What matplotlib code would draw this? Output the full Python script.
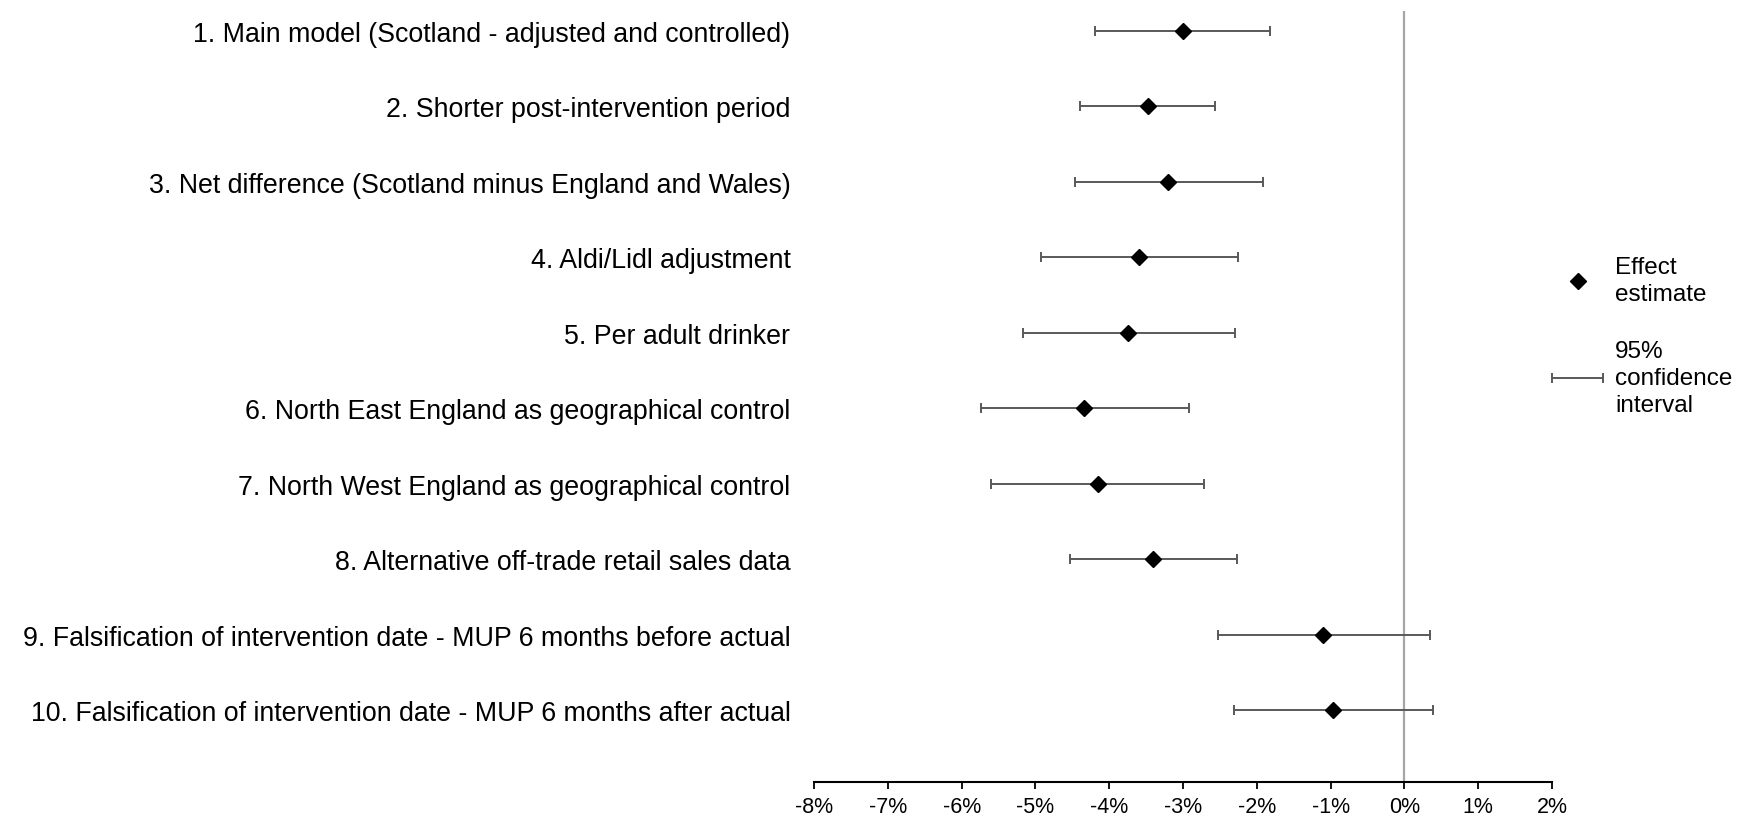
#!/usr/bin/env python3

import numpy as np
import matplotlib
matplotlib.use('Agg')

import matplotlib.pyplot as plt
from matplotlib.container import ErrorbarContainer
from matplotlib.legend_handler import HandlerErrorbar

labels = [
    "1. Main model (Scotland - adjusted and controlled)",
    "2. Shorter post-intervention period",
    "3. Net difference (Scotland minus England and Wales)",
    "4. Aldi/Lidl adjustment",
    "5. Per adult drinker",
    "6. North East England as geographical control",
    "7. North West England as geographical control",
    "8. Alternative off-trade retail sales data",
    "9. Falsification of intervention date - MUP 6 months before actual",
    "10. Falsification of intervention date - MUP 6 months after actual",
]
estimate = [-3.00, -3.48, -3.21, -3.60, -3.74, -4.34, -4.15, -3.41, -1.10, -0.97]
ci_low = [-4.19, -4.39, -4.46, -4.93, -5.17, -5.74, -5.60, -4.53, -2.52, -2.31]
ci_high = [-1.82, -2.57, -1.91, -2.25, -2.30, -2.92, -2.71, -2.27, 0.34, 0.39]
xticks = [-8, -7, -6, -5, -4, -3, -2, -1, 0, 1, 2]


def main():
    plt.rcParams['font.family'] = ['Liberation Sans', 'DejaVu Sans']

    est = np.array(estimate)
    lo = np.array(ci_low)
    hi = np.array(ci_high)
    y = np.arange(1, len(labels) + 1)

    fig = plt.figure(figsize=(17.38, 8.2), dpi=100)
    ax = fig.add_axes([0.4684, 0.0451, 0.4246, 0.9403])

    ax.axvline(0, color='#a6a6a6', lw=1.6, zorder=1)
    eb = ax.errorbar(est, y, xerr=[est - lo, hi - est], fmt='none', ecolor='#595959',
                     elinewidth=1.4, capsize=3.3, capthick=1.4, zorder=2,
                     label='95%\nconfidence\ninterval')
    dots, = ax.plot(est, y, 'D', color='black', ms=8.3, ls='none', zorder=3,
                    label='Effect\nestimate')

    ax.set_xlim(-8, 2)
    ax.set_ylim(10.95, 0.735)
    ax.set_xticks(xticks)
    ax.set_xticklabels([f'{t}%' for t in xticks], fontsize=15.5)
    ax.set_yticks(y)
    ax.set_yticklabels(labels, fontsize=19.3)
    ax.tick_params(axis='y', length=0, pad=17)
    ax.tick_params(axis='x', length=5, width=1.3, direction='out', pad=5)
    for s in ['left', 'right', 'top']:
        ax.spines[s].set_visible(False)
    ax.spines['bottom'].set_linewidth(1.5)

    leg = fig.legend(handles=[dots, eb], loc='upper left', bbox_to_anchor=(0.893, 0.686),
                     frameon=False, fontsize=17.5, borderpad=0, borderaxespad=0,
                     handlelength=2.1, handletextpad=0.49, labelspacing=1.45,
                     numpoints=1,
                     handler_map={ErrorbarContainer: HandlerErrorbar(xerr_size=1.05)})
    for t in leg.get_texts():
        t.set_linespacing(1.28)

    plt.savefig("out.png")


if __name__ == "__main__":
    main()
